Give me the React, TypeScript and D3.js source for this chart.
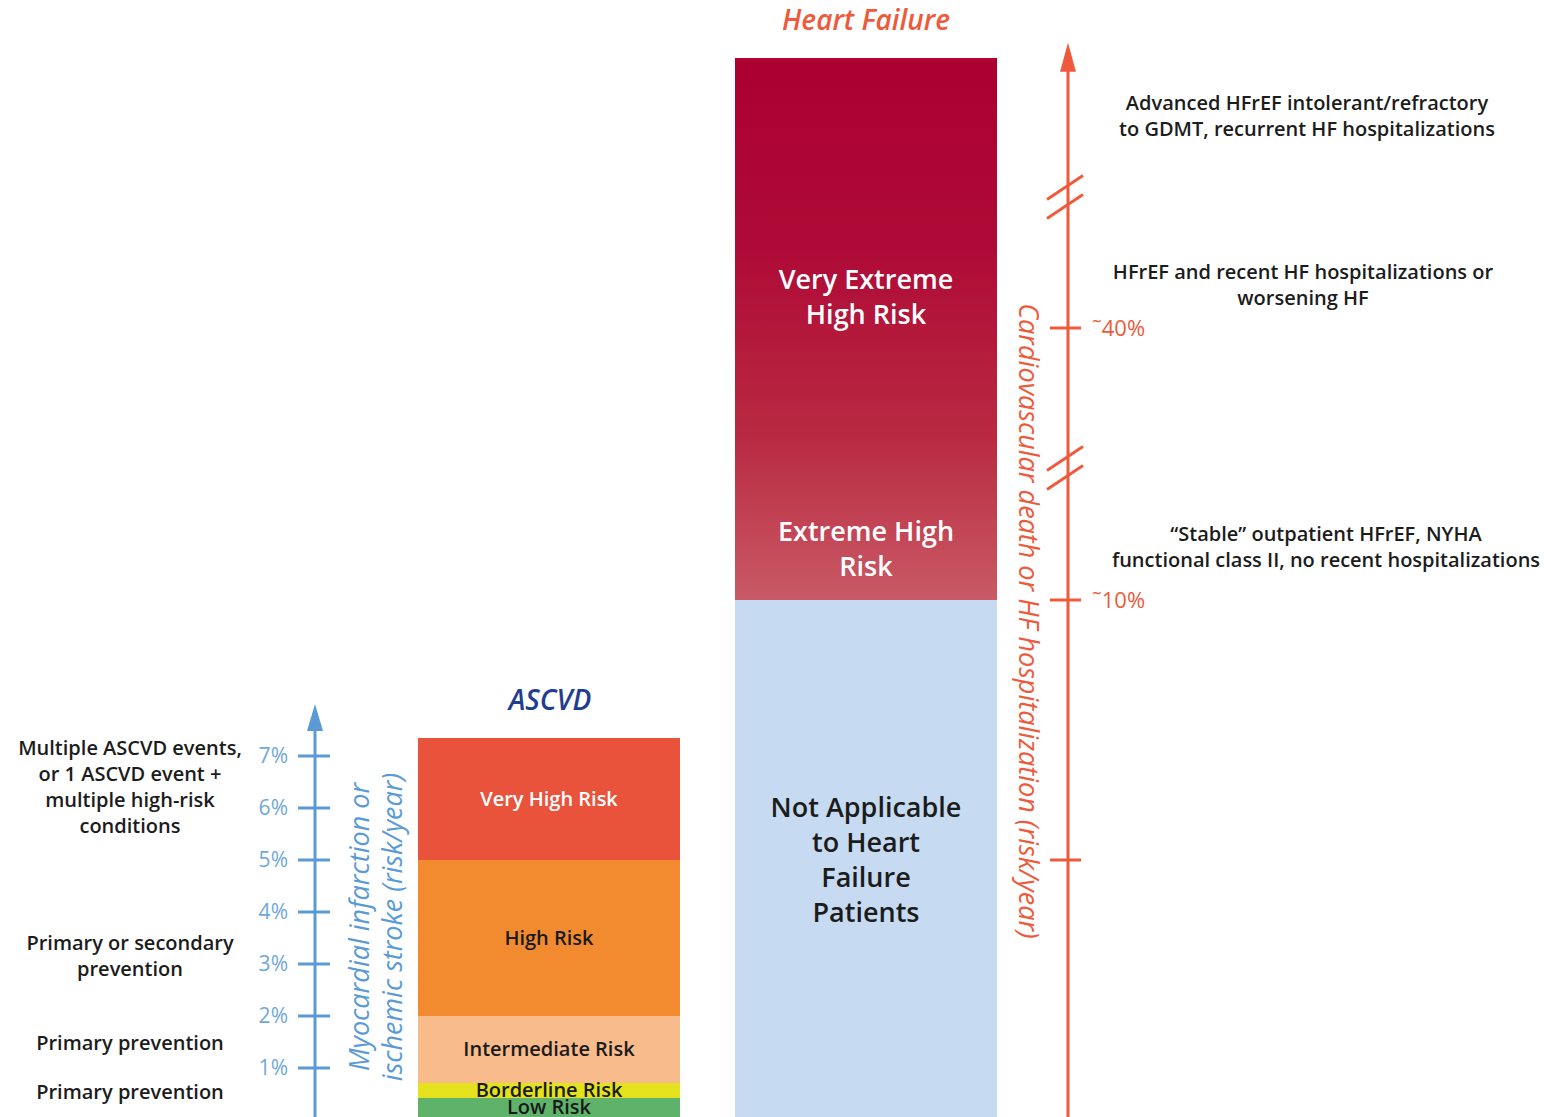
import React from "react";
import * as d3 from "d3";

// ---------- data ----------
const ascvdTicks = [1, 2, 3, 4, 5, 6, 7];
const ascvdCategories = ["Low Risk", "Borderline Risk", "Intermediate Risk", "High Risk", "Very High Risk"];
const ascvdLower = [0, 0.42, 0.72, 2, 5];
const ascvdUpper = [0.42, 0.72, 2, 5, 7.35];
const ascvdColors = ["#5fb26a", "#e3e21c", "#f8bb8c", "#f28b30", "#e9533b"];
const ascvdTextColors = ["#1a1a1a", "#1a1a1a", "#1a1a1a", "#1a1a1a", "#ffffff"];

const hfCategories = [
  ["Not Applicable", "to Heart", "Failure", "Patients"],
  ["Extreme High", "Risk"],
  ["Very Extreme", "High Risk"],
];
const hfLower = [0, 10, 21];
const hfUpper = [10, 21, 70];
const hfLabelValues = [5, 15.6, 43.4];
const hfTicks = [5, 10, 40];
const hfTickLabels = ["", "˜10%", "˜40%"];
const hfBreaks = [24.5, 54.5];

const leftNotes = [
  ["Multiple ASCVD events,", "or 1 ASCVD event +", "multiple high-risk", "conditions"],
  ["Primary or secondary", "prevention"],
  ["Primary prevention"],
  ["Primary prevention"],
];
const leftNoteValues = [6.4, 3.15, 1.48, 0.54];

const rightNotes = [
  ["Advanced HFrEF intolerant/refractory", "to GDMT, recurrent HF hospitalizations"],
  ["HFrEF and recent HF hospitalizations or", "worsening HF"],
  ["\u201CStable\u201D outpatient HFrEF, NYHA", "functional class II, no recent hospitalizations"],
];
const rightNoteValues = [63.6, 44.8, 15.9];

// ---------- layout ----------
const W = 1544;
const H = 1117;
const FONT = "'Open Sans', 'Noto Sans', sans-serif";
const RED = "#ee5a3b";
const BLUE = "#5b9bd5";
const TICKBLUE = "#6fa8dc";
const INK = "#1c1c1c";

const y = d3.scaleLinear().domain([0, 10, 40, 70]).range([1120, 600, 328, 58]);

const ascvdX = d3.scaleBand().domain(["ASCVD"]).range([418, 680]).padding(0);
const hfX = d3.scaleBand().domain(["HF"]).range([735, 997]).padding(0);

const ascvdAxisX = 315;
const hfAxisX = 1068;

function Lines({ lines, x, cy, lh, ...rest }: any) {
  const n = lines.length;
  return (
    <text x={x} textAnchor="middle" {...rest}>
      {lines.map((l: string, i: number) => (
        <tspan key={i} x={x} y={cy + (i - (n - 1) / 2) * lh} dy="0.35em">
          {l}
        </tspan>
      ))}
    </text>
  );
}

export default function App() {
  const aTop = y(8);
  const hTop = y(71.7);
  return (
    <svg
      width={W}
      height={H}
      style={{ position: "absolute", left: 0, top: 0, background: "#fff" }}
      fontFamily={FONT}
    >
      <defs>
        <linearGradient id="hfGrad" gradientUnits="userSpaceOnUse" x1={0} x2={0} y1={y(70)} y2={y(10)}>
          <stop offset="0" stopColor="#ab0030" />
          <stop offset="0.35" stopColor="#af0a37" />
          <stop offset="0.7" stopColor="#b92a41" />
          <stop offset="1" stopColor="#c95a66" />
        </linearGradient>
      </defs>

      {/* Titles */}
      <text x={866} y={30} textAnchor="middle" fontSize={28} fontStyle="italic" fontWeight={600} fill={RED}>
        Heart Failure
      </text>
      <text x={550} y={710} textAnchor="middle" fontSize={28} fontStyle="italic" fontWeight={600} fill="#1f3e8f">
        ASCVD
      </text>

      {/* ASCVD bar */}
      {ascvdCategories.map((c, i) => (
        <rect
          key={c}
          x={ascvdX("ASCVD")}
          width={ascvdX.bandwidth()}
          y={y(ascvdUpper[i])}
          height={y(ascvdLower[i]) - y(ascvdUpper[i])}
          fill={ascvdColors[i]}
          shapeRendering="crispEdges"
        />
      ))}
      {ascvdCategories.map((c, i) => (
        <text
          key={c + "t"}
          x={(ascvdX("ASCVD") as number) + ascvdX.bandwidth() / 2}
          y={(y(ascvdUpper[i]) + y(ascvdLower[i])) / 2 - (i === 0 ? 2 : 0)}
          dy="0.35em"
          textAnchor="middle"
          fontSize={20}
          fontWeight={600}
          fill={ascvdTextColors[i]}
        >
          {c}
        </text>
      ))}

      {/* HF bar */}
      {hfCategories.map((c, i) => (
        <rect
          key={"hf" + i}
          x={hfX("HF")}
          width={hfX.bandwidth()}
          y={Math.round(y(hfUpper[i]))}
          height={Math.round(y(hfLower[i])) - Math.round(y(hfUpper[i]))}
          fill={i === 0 ? "#c6dbf1" : "url(#hfGrad)"}
          shapeRendering="crispEdges"
        />
      ))}
      {hfCategories.map((c, i) => (
        <Lines
          key={"hft" + i}
          lines={c}
          x={(hfX("HF") as number) + hfX.bandwidth() / 2}
          cy={y(hfLabelValues[i])}
          lh={35}
          fontSize={27}
          fontWeight={600}
          fill={i === 0 ? INK : "#ffffff"}
        />
      ))}

      {/* ASCVD axis */}
      <line x1={ascvdAxisX} x2={ascvdAxisX} y1={aTop + 20} y2={y(0)} stroke={BLUE} strokeWidth={3} />
      <path
        d={`M${ascvdAxisX},${aTop} L${ascvdAxisX + 8},${aTop + 27} L${ascvdAxisX - 8},${aTop + 27} Z`}
        fill={BLUE}
      />
      {ascvdTicks.map((t) => (
        <g key={t}>
          <line x1={ascvdAxisX - 17} x2={ascvdAxisX + 15} y1={y(t)} y2={y(t)} stroke={BLUE} strokeWidth={3} />
          <text x={288} y={y(t)} dy="0.35em" textAnchor="end" fontSize={21} fill={TICKBLUE}>
            {t}%
          </text>
        </g>
      ))}
      <text
        transform={`translate(369,927) rotate(-90)`}
        textAnchor="middle"
        fontSize={27}
        fontStyle="italic"
        fill={BLUE}
      >
        <tspan x={0} y={0}>Myocardial infarction or</tspan>
        <tspan x={0} y={33}>ischemic stroke (risk/year)</tspan>
      </text>

      {/* HF axis */}
      <line x1={hfAxisX} x2={hfAxisX} y1={hTop + 20} y2={y(0)} stroke={RED} strokeWidth={3} />
      <path d={`M${hfAxisX},${hTop} L${hfAxisX + 8},${hTop + 29} L${hfAxisX - 8},${hTop + 29} Z`} fill={RED} />
      {hfTicks.map((t, i) => (
        <g key={t}>
          <line x1={hfAxisX - 18} x2={hfAxisX + 13} y1={y(t)} y2={y(t)} stroke={RED} strokeWidth={3} />
          <text x={1092} y={y(t)} dy="0.35em" fontSize={22} fill={RED}>
            {hfTickLabels[i]}
          </text>
        </g>
      ))}
      {hfBreaks.map((b) => (
        <g key={b}>
          <line x1={hfAxisX - 21} x2={hfAxisX + 15} y1={y(b) + 2} y2={y(b) - 22} stroke={RED} strokeWidth={3} />
          <line x1={hfAxisX - 21} x2={hfAxisX + 15} y1={y(b) + 21} y2={y(b) - 3} stroke={RED} strokeWidth={3} />
        </g>
      ))}
      <text
        transform={`translate(1019,621) rotate(90)`}
        textAnchor="middle"
        fontSize={27}
        fontStyle="italic"
        fill={RED}
      >
        Cardiovascular death or HF hospitalization (risk/year)
      </text>

      {/* Left notes */}
      {leftNotes.map((ls, i) => (
        <Lines
          key={"ln" + i}
          lines={ls}
          x={130}
          cy={y(leftNoteValues[i])}
          lh={26}
          fontSize={20}
          fontWeight={600}
          fill={INK}
        />
      ))}

      {/* Right notes */}
      {rightNotes.map((ls, i) => (
        <Lines
          key={"rn" + i}
          lines={ls}
          x={[1307, 1303, 1326][i]}
          cy={y(rightNoteValues[i])}
          lh={26}
          fontSize={20}
          fontWeight={600}
          fill={INK}
        />
      ))}
    </svg>
  );
}
